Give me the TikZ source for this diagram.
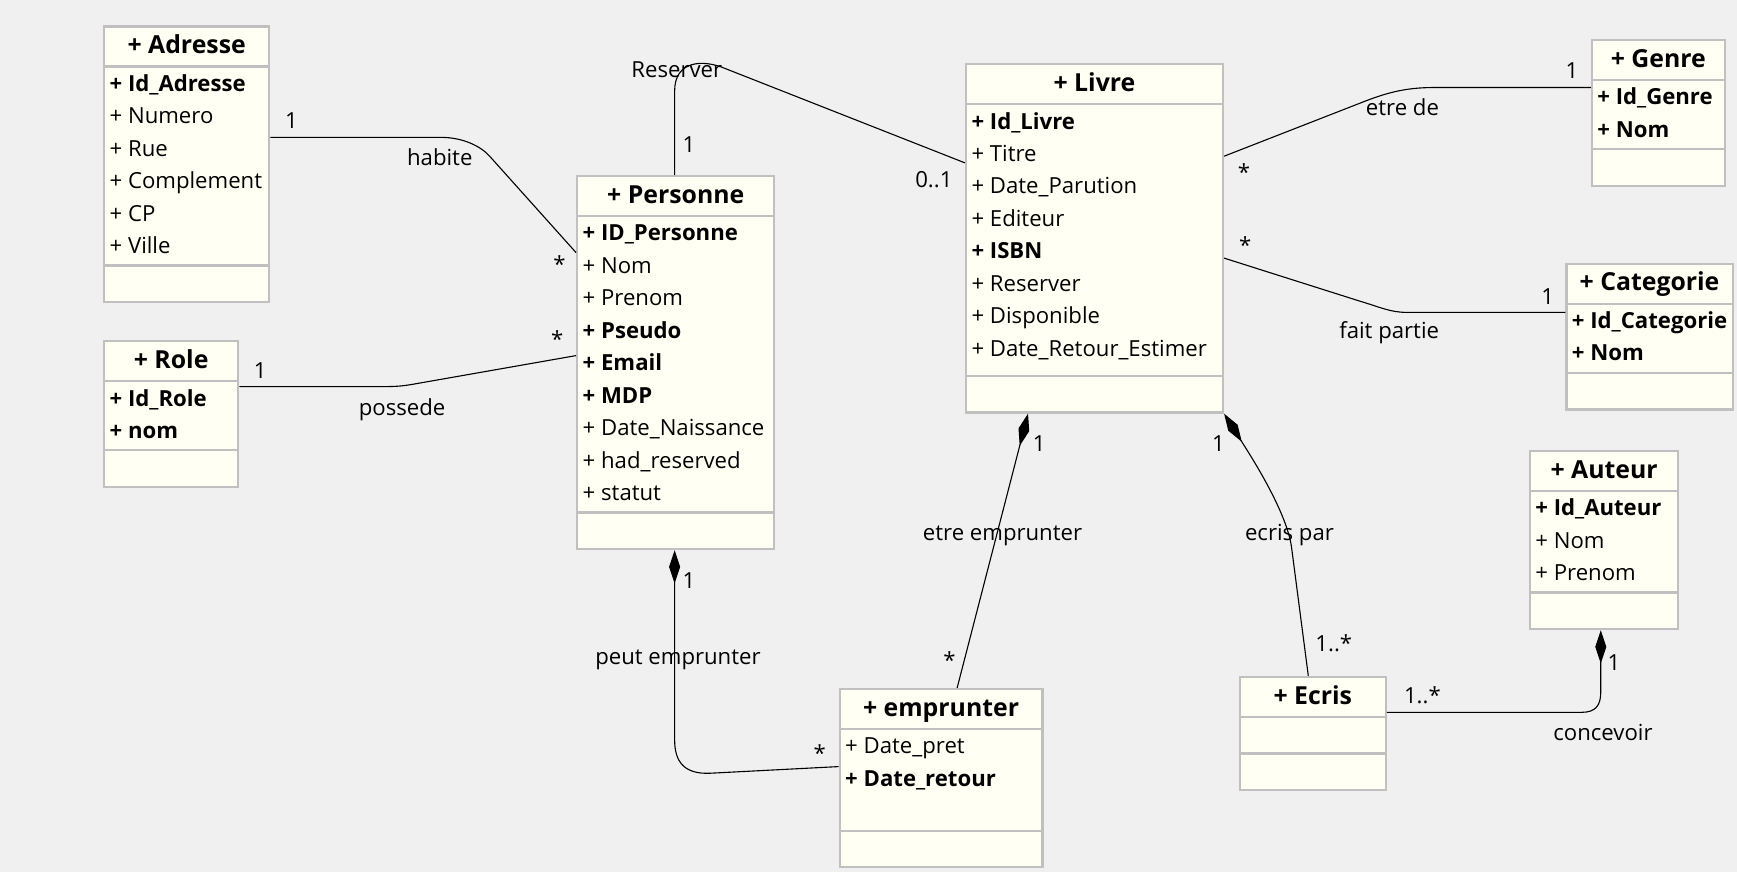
\documentclass[tikz,border=0pt]{standalone}
\usepackage{fontspec}
\setmainfont{Open Sans}
\usepackage{tikz}
\usetikzlibrary{shapes.multipart, arrows.meta}
\definecolor{bggray}{HTML}{F0F0F0}
\definecolor{boxgray}{HTML}{C0C0C0}
\definecolor{boxfill}{HTML}{FFFFF3}
\newcommand{\attrfont}{\fontsize{10}{14.65}\selectfont}
\newcommand{\titlefont}{\fontsize{11.2}{16.15}\selectfont\bfseries}
\newcommand{\attrs}[1]{\begin{tabular}{@{}l@{}}#1\end{tabular}}
\tikzset{
	umlclass/.style={rectangle split, rectangle split parts=3, rectangle split part align={center,left,left}, draw=boxgray, fill=boxfill, line width=1pt, inner xsep=2.5pt, inner ysep=0.45pt, anchor=north west, font=\attrfont},
	assoc/.style={line width=0.5pt},
	compo/.style={assoc, -{Diamond[length=15pt, width=5pt]}},
	assoclabel/.style={anchor=base, font=\attrfont, inner sep=0pt}
}

\begin{document}
\begin{tikzpicture}[x=0.5pt, y=-0.5pt]
	
	\fill [bggray] (0,0) rectangle (1568,787);
	
	% Classes
	\node (adresse) [umlclass, minimum width=74.5pt] at (93,23) {\titlefont\strut + Adresse
		\nodepart{second}\attrs{\textbf{+ Id\_Adresse}\\+ Numero\\+ Rue\\+ Complement\\+ CP\\+ Ville}
		\nodepart{third}\strut};
	\node (role) [umlclass, minimum width=60.5pt] at (93,307) {\titlefont\strut + Role
		\nodepart{second}\attrs{\textbf{+ Id\_Role}\\\textbf{+ nom}}
		\nodepart{third}\strut};
	\node (personne) [umlclass, minimum width=89pt] at (520,158) {\titlefont\strut + Personne
		\nodepart{second}\attrs{\textbf{+ ID\_Personne}\\+ Nom\\+ Prenom\\\textbf{+ Pseudo}\\\textbf{+ Email}\\\textbf{+ MDP}\\+ Date\_Naissance\\+ had\_reserved\\+ statut}
		\nodepart{third}\strut};
	\node (livre) [umlclass, minimum width=116pt] at (871,57) {\titlefont\strut + Livre
		\nodepart{second}\attrs{\textbf{+ Id\_Livre}\\+ Titre\\+ Date\_Parution\\+ Editeur\\\textbf{+ ISBN}\\+ Reserver\\+ Disponible\\+ Date\_Retour\_Estimer\\[3.5pt]}
		\nodepart{third}\strut};
	\node (genre) [umlclass, minimum width=60pt] at (1436,35) {\titlefont\strut + Genre
		\nodepart{second}\attrs{\textbf{+ Id\_Genre}\\\textbf{+ Nom}}
		\nodepart{third}\strut};
	\node (categorie) [umlclass, minimum width=74pt] at (1413,237) {\titlefont\strut + Categorie
		\nodepart{second}\attrs{\textbf{+ Id\_Categorie}\\\textbf{+ Nom}}
		\nodepart{third}\strut};
	\node (auteur) [umlclass, minimum width=67pt] at (1380,406) {\titlefont\strut + Auteur
		\nodepart{second}\attrs{\textbf{+ Id\_Auteur}\\+ Nom\\+ Prenom}
		\nodepart{third}\strut};
	\node (ecris) [umlclass, minimum width=66pt] at (1118,610) {\titlefont\strut + Ecris
		\nodepart{second}\strut
		\nodepart{third}\strut};
	\node (emprunter) [umlclass, minimum width=91.5pt] at (757,621) {\titlefont\strut + emprunter
		\nodepart{second}\attrs{+ Date\_pret\\\textbf{+ Date\_retour}\\ \\}
		\nodepart{third}\strut};
	
	% Labels
	\node (habite) [assoclabel] at (397,149) {habite};
	\node (habite1) [assoclabel] at (263,116) {1};
	\node (habite2) [assoclabel] at (505,246) {*};
	\node (possede) [assoclabel] at (363,375) {possede};
	\node (possede1) [assoclabel] at (235,342) {1};
	\node (possede2) [assoclabel] at (503,314) {*};
	\node (reserver) [assoclabel] at (611,70) {Reserver};
	\node (reserver1) [assoclabel] at (622,138) {1};
	\node (reserver2) [assoclabel] at (843,169) {0..1};
	\node (etrede) [assoclabel] at (1266,104) {etre de};
	\node (etrede1) [assoclabel] at (1419,71) {1};
	\node (etrede2) [assoclabel] at (1123,163) {*};
	\node (faitpartie) [assoclabel] at (1254,306) {fait partie};
	\node (faitpartie1) [assoclabel] at (1397,275) {1};
	\node (faitpartie2) [assoclabel] at (1124,229) {*};
	\node (etreemp) [assoclabel] at (905,488) {etre emprunter};
	\node (etreemp1) [assoclabel] at (938,408) {1};
	\node (etreemp2) [assoclabel] at (857,603) {*};
	\node (ecrispar) [assoclabel] at (1164,488) {ecris par};
	\node (ecrispar1) [assoclabel] at (1100,408) {1};
	\node (ecrispar2) [assoclabel] at (1204,588) {1..*};
	\node (peutemp) [assoclabel] at (612,600) {peut emprunter};
	\node (peutemp1) [assoclabel] at (622,531) {1};
	\node (peutemp2) [assoclabel] at (740,687) {*};
	\node (concevoir) [assoclabel] at (1447,668) {concevoir};
	\node (concevoir1) [assoclabel] at (1284,635) {1..*};
	\node (concevoir2) [assoclabel] at (1457,605) {1};
	
	% Arrows
	\draw [assoc] (adresse.east |- 0,124) -- (398,124) .. controls (418,124) and (434,132) .. (442,141) -- (personne.west |- 0,228);
	\draw [assoc] (role.east |- 0,349) -- (340,349) .. controls (355,349) and (360,349) .. (372,347) -- (personne.west |- 0,321);
	\draw [assoc] (personne.north -| 609,0) -- (609,82) .. controls (609,55) and (634,53) .. (655,62) -- (livre.west |- 0,147);
	\draw [assoc] (livre.east |- 0,141) -- (1228,93) .. controls (1253,83) and (1270,79) .. (1295,79) -- (genre.west |- 0,79);
	\draw [assoc] (livre.east |- 0,233) -- (1228,272) .. controls (1245,277) and (1255,282) .. (1270,282) -- (categorie.west |- 0,282);
	\draw [compo] (emprunter.north -| 864,0) -- (livre.south -| 928,0);
	\draw [compo] (ecris.north -| 1181,0) -- (1166,495) .. controls (1162,462) and (1128,410) .. (livre.south east);
	\draw [compo] (emprunter.west |- 0,692) -- (641,698) .. controls (618,699) and (609,688) .. (609,668) -- (personne.south -| 609,0);
	\draw [compo] (ecris.east |- 0,643) -- (1428,643) .. controls (1440,643) and (1445,637) .. (1445,625) -- (auteur.south -| 1445,0);
	
\end{tikzpicture}
\end{document}
